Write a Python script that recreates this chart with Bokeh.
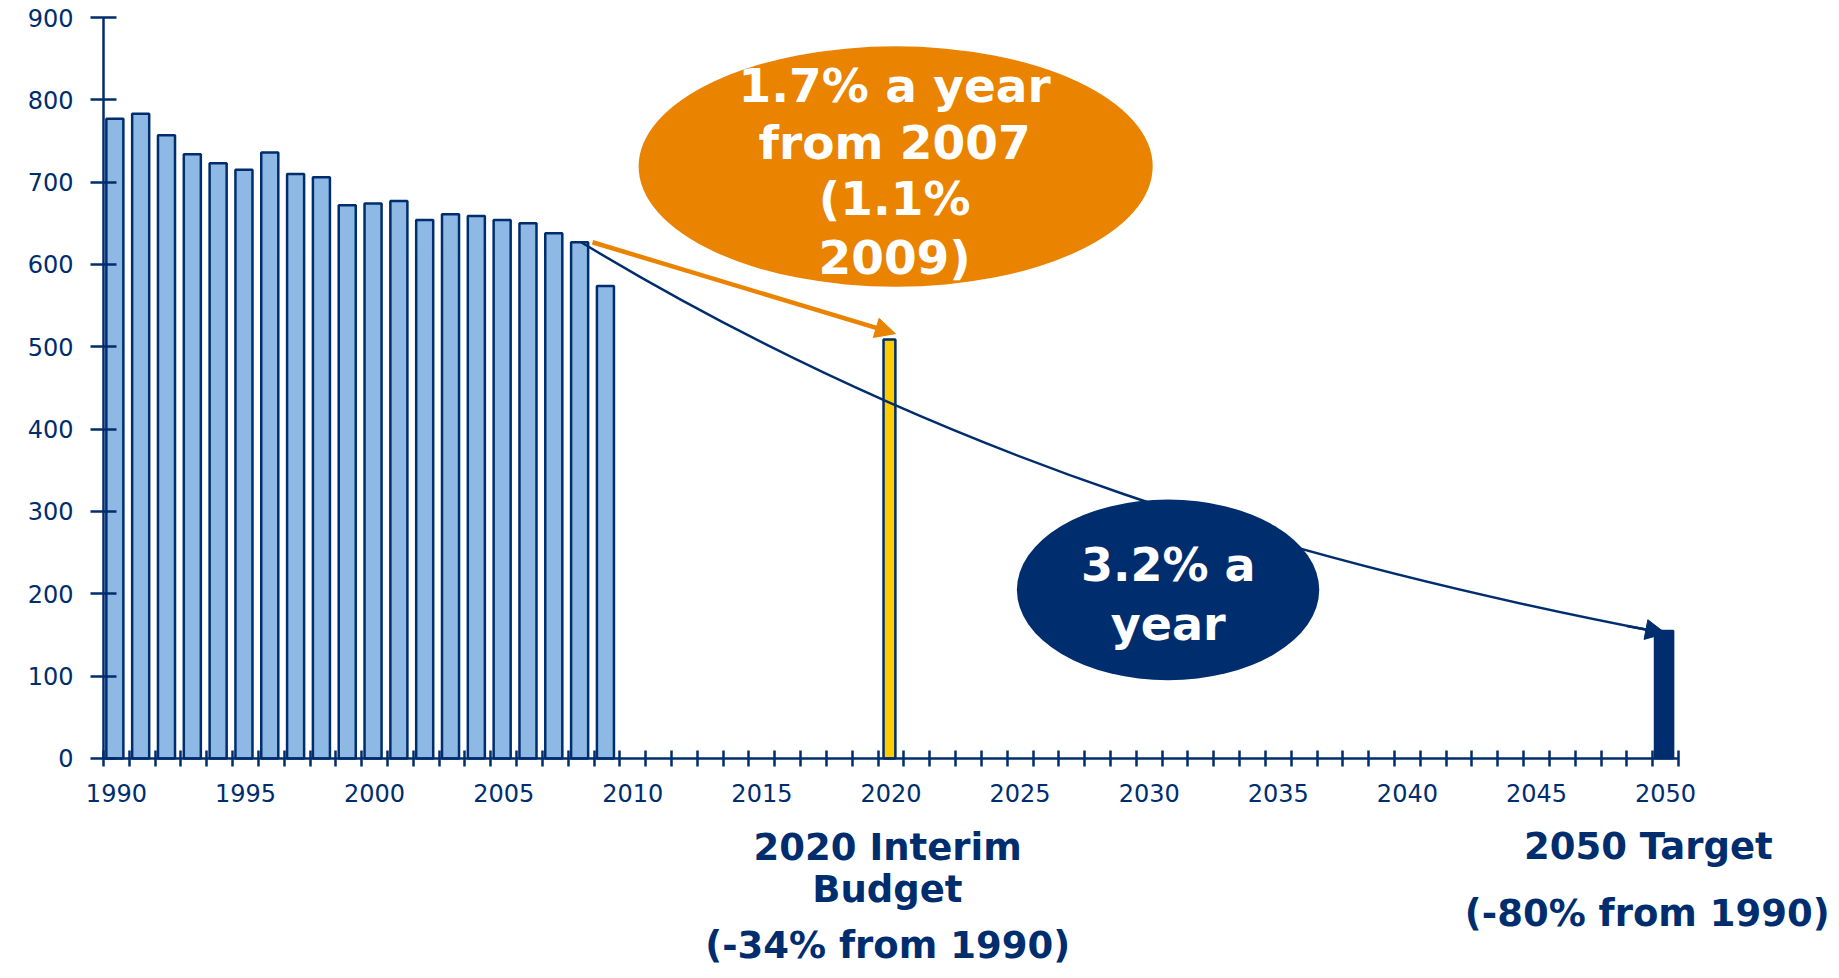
from bokeh.plotting import figure
from bokeh.models import Range1d, FixedTicker, Label, Arrow, NormalHead
from bokeh.embed import file_html
from bokeh.resources import INLINE

# ---------------- data ----------------
hist_years = list(range(1990, 2010))
hist_values = [777, 783, 757, 734, 723, 715, 736, 710, 706, 672,
               674, 677, 654, 661, 659, 654, 650, 638, 627, 574]
budget_years = [2020]
budget_values = [509]
target_years = [2050]
target_values = [155]
y_tick_values = list(range(0, 1000, 100))
x_label_years = list(range(1990, 2055, 5))
slot_years = list(range(1990, 2052))

# ---------------- styles ----------------
NAVY = "#002D6E"
LIGHT = "#8DB9E4"
ORANGE = "#E98300"
YELLOW = "#FFCC00"
FONT = "DejaVu Sans"
BAR_SHIFT = -0.06
X_START, X_END = 1989.5, 2050.5
LABEL_DY = 18

p = figure(width=1835, height=975,
           x_range=Range1d(1985.511, 2056.58), y_range=Range1d(-263.6, 920.65),
           output_backend="svg", toolbar_location=None,
           min_border=0)
p.grid.visible = False
p.outline_line_color = None
p.background_fill_color = "white"

# axes (placed inside the frame at x=1989.5 / y=0)
xa = p.xaxis[0]
xa.fixed_location = 0
xa.bounds = (X_START, X_END)
xa.ticker = FixedTicker(ticks=x_label_years, minor_ticks=[y - 0.5 for y in slot_years])
xa.axis_line_color = NAVY
xa.axis_line_width = 2.5
xa.major_tick_in = 0
xa.major_tick_out = 0
xa.minor_tick_in = 8
xa.minor_tick_out = 8
xa.minor_tick_line_color = NAVY
xa.minor_tick_line_width = 2.5
xa.major_label_text_color = NAVY
xa.major_label_text_font = FONT
xa.major_label_text_font_size = "24px"
xa.major_label_standoff = 18

ya = p.yaxis[0]
ya.fixed_location = X_START
ya.bounds = (0, 900)
ya.ticker = FixedTicker(ticks=y_tick_values)
ya.axis_line_color = NAVY
ya.axis_line_width = 2.5
ya.major_tick_in = 13
ya.major_tick_out = 13
ya.major_tick_line_color = NAVY
ya.major_tick_line_width = 2.5
ya.minor_tick_in = 0
ya.minor_tick_out = 0
ya.major_label_text_color = NAVY
ya.major_label_text_font = FONT
ya.major_label_text_font_size = "24px"
ya.major_label_standoff = 17

# bars
p.vbar(x=[y + BAR_SHIFT for y in hist_years], top=hist_values, bottom=0, width=0.66,
       fill_color=LIGHT, line_color=NAVY, line_width=2.5)
p.vbar(x=[y + BAR_SHIFT for y in budget_years], top=budget_values, bottom=0, width=0.46,
       fill_color=YELLOW, line_color=NAVY, line_width=2.5)
p.vbar(x=[y + BAR_SHIFT for y in target_years], top=target_values, bottom=0, width=0.72,
       fill_color=NAVY, line_color=NAVY, line_width=2)

# 3.2% path (curve drawn from 2008 bar to 2050 target)
p.bezier(x0=[2008.0], y0=[627], x1=[2050.0], y1=[152],
         cx0=[2022.0], cy0=[361], cx1=[2036.0], cy1=[236],
         line_color=NAVY, line_width=2.5)
p.add_layout(Arrow(end=NormalHead(size=20, fill_color=NAVY, line_color=NAVY),
                   x_start=2048.5, y_start=161, x_end=2050.0, y_end=152,
                   line_color=NAVY, line_width=2.5))

# 1.7% arrow
p.add_layout(Arrow(end=NormalHead(size=20, fill_color=ORANGE, line_color=ORANGE),
                   x_start=2008.44, y_start=627, x_end=2020.17, y_end=516,
                   line_color=ORANGE, line_width=4.5))

# bubbles
p.ellipse(x=[2020.18], y=[719], width=[19.91], height=[292],
          fill_color=ORANGE, line_color=None)
p.ellipse(x=[2030.73], y=[204.8], width=[11.71], height=[219.5],
          fill_color=NAVY, line_color=None)


def lab(x, y, text, color, size):
    p.add_layout(Label(x=x, y=y + LABEL_DY, text=text, text_align="center",
                       text_baseline="alphabetic", text_color=color,
                       text_font=FONT, text_font_style="bold",
                       text_font_size=size))


for txt, yy in zip(["1.7% a year", "from 2007", "(1.1%", "2009)"],
                   [799.6, 730.7, 662, 591]):
    lab(2020.14, yy, txt, "white", "47px")

for txt, yy in zip(["3.2% a", "year"], [216.6, 145.8]):
    lab(2030.74, yy, txt, "white", "46px")

lab(2019.87, -125.6, "2020 Interim", NAVY, "37px")
lab(2019.86, -177, "Budget", NAVY, "37px")
lab(2019.87, -245, "(-34% from 1990)", NAVY, "37px")
lab(2049.33, -124.4, "2050 Target", NAVY, "37px")
lab(2049.29, -206.5, "(-80% from 1990)", NAVY, "37px")

open("out.html", "w").write(file_html(p, INLINE))
